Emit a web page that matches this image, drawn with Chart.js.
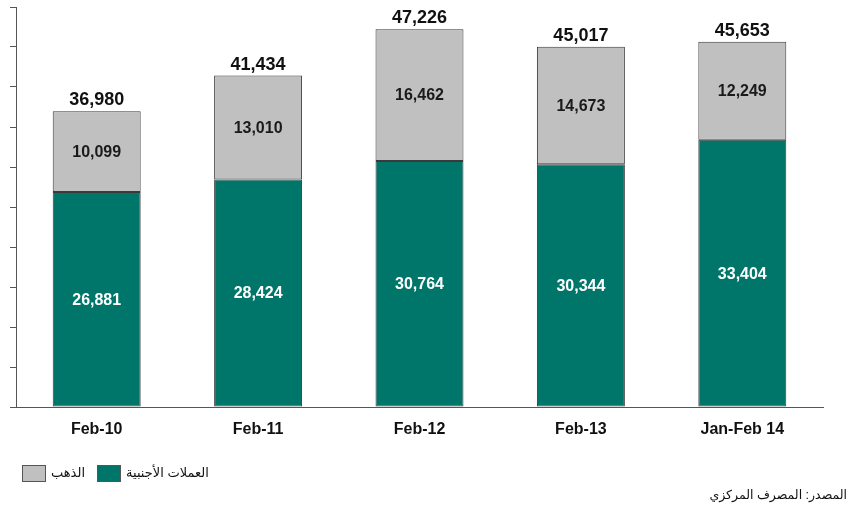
<!DOCTYPE html>
<html>
<head>
<meta charset="utf-8">
<script src="https://cdn.jsdelivr.net/npm/chart.js@4.4.1/dist/chart.umd.min.js"></script>
<style>
  html, body { margin: 0; padding: 0; background: #fff; }
  #wrap { position: relative; width: 850px; height: 505px; }
</style>
</head>
<body>
<div id="wrap"><canvas id="reservesChart" width="850" height="505"></canvas></div>
<script>
const categories = ["Feb-10", "Feb-11", "Feb-12", "Feb-13", "Jan-Feb 14"];
const foreignCurrency = [26881, 28424, 30764, 30344, 33404];
const gold = [10099, 13010, 16462, 14673, 12249];
const totals = [36980, 41434, 47226, 45017, 45653];
const yMax = 50000;
const yStep = 5000;

const seriesNames = ["العملات الأجنبية", "الذهب"];
const sourceText = "المصدر: المصرف المركزي";

const GREEN = "#00766A";
const GRAY = "#C0C0C0";
const EDGE = "#3a3a3a";

function fmt(n) {
  return n.toLocaleString("en-US");
}

// value labels inside the segments and totals over the bars
const valueLabels = {
  id: "valueLabels",
  afterDatasetsDraw(chart) {
    const ctx = chart.ctx;
    ctx.save();
    ctx.textAlign = "center";
    ctx.textBaseline = "middle";
    chart.data.datasets.forEach((ds, i) => {
      const meta = chart.getDatasetMeta(i);
      ctx.font = "bold 16px Arial, 'Liberation Sans', sans-serif";
      ctx.fillStyle = i === 0 ? "#ffffff" : "#1a1a1a";
      meta.data.forEach((bar, j) => {
        ctx.fillText(fmt(ds.data[j]), bar.x, (bar.y + bar.base) / 2 + 1);
      });
    });
    const top = chart.getDatasetMeta(chart.data.datasets.length - 1);
    ctx.font = "bold 18px Arial, 'Liberation Sans', sans-serif";
    ctx.fillStyle = "#111";
    ctx.textBaseline = "alphabetic";
    top.data.forEach((bar, j) => {
      ctx.fillText(fmt(totals[j]), bar.x, bar.y - 6);
    });
    ctx.restore();
  }
};

// legend at bottom left and source note at bottom right
const footer = {
  id: "footer",
  afterDraw(chart) {
    const ctx = chart.ctx;
    ctx.save();
    ctx.font = "13px Arial, 'DejaVu Sans', sans-serif";
    ctx.textBaseline = "middle";
    const items = [
      { label: seriesNames[1], color: GRAY, x: 22 },
      { label: seriesNames[0], color: GREEN, x: 97 }
    ];
    items.forEach((it) => {
      ctx.fillStyle = it.color;
      ctx.fillRect(it.x, 465, 24, 16);
      ctx.strokeStyle = "#555";
      ctx.lineWidth = 1;
      ctx.strokeRect(it.x + 0.5, 465.5, 23, 16);
      ctx.fillStyle = "#111";
      ctx.textAlign = "left";
      ctx.fillText(it.label, it.x + 29, 473);
    });
    ctx.font = "12.5px Arial, 'DejaVu Sans', sans-serif";
    ctx.textAlign = "right";
    ctx.fillText(sourceText, 847, 496);
    ctx.restore();
  }
};

const ctx = document.getElementById("reservesChart").getContext("2d");
new Chart(ctx, {
  type: "bar",
  data: {
    labels: categories,
    datasets: [
      {
        label: seriesNames[0],
        data: foreignCurrency,
        backgroundColor: GREEN,
        borderColor: EDGE,
        borderWidth: 1,
        borderSkipped: false,
        barPercentage: 0.545,
        categoryPercentage: 1
      },
      {
        label: seriesNames[1],
        data: gold,
        backgroundColor: GRAY,
        borderColor: EDGE,
        borderWidth: 1,
        borderSkipped: false,
        barPercentage: 0.545,
        categoryPercentage: 1
      }
    ]
  },
  options: {
    responsive: false,
    animation: false,
    layout: { padding: { left: 0, right: 27, top: 7, bottom: 0 } },
    plugins: {
      legend: { display: false },
      tooltip: { enabled: false }
    },
    scales: {
      x: {
        stacked: true,
        grid: { display: false },
        border: { display: true, color: "#555", width: 1 },
        ticks: {
          color: "#111",
          padding: 5,
          font: { family: "Arial, 'Liberation Sans', sans-serif", size: 16, weight: "bold" }
        },
        afterFit: (s) => { s.height = 98; }
      },
      y: {
        stacked: true,
        min: 0,
        max: yMax,
        grid: { drawOnChartArea: false, drawTicks: true, tickLength: 6, color: "#555" },
        border: { display: true, color: "#555", width: 1 },
        ticks: { display: false, stepSize: yStep },
        afterFit: (s) => { s.width = 16; }
      }
    }
  },
  plugins: [valueLabels, footer]
});
</script>
</body>
</html>
